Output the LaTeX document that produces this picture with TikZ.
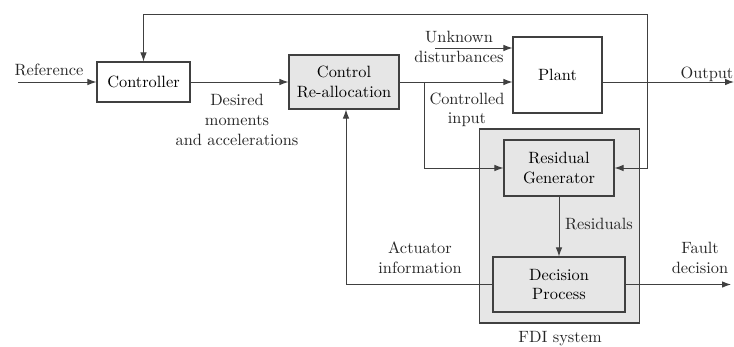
\documentclass[tikz,border=0pt]{standalone}
\usetikzlibrary{arrows.meta}
\def\pu{0.0215cm}
\definecolor{boxgray}{HTML}{E6E6E6}
\definecolor{ink}{HTML}{404040}
\tikzset{
  blk/.style={draw=ink, line width=0.65pt, inner sep=0pt, align=center, font=\normalsize},
  shaded/.style={blk, fill=boxgray},
  lbl/.style={inner sep=0pt, align=center, text=black!85},
  flow/.style={draw=ink, line width=0.6pt, -{Latex[length=5.5pt,width=4pt]}},
  wire/.style={draw=ink, line width=0.6pt}
}
\begin{document}
\begin{tikzpicture}[x=\pu, y=-\pu]
\useasboundingbox (0,0) rectangle (734,347);

% FDI enclosure
\node[shaded, minimum width=160*\pu, minimum height=194*\pu] (fdi) at (559.5,226) {};
\node[lbl] (fdilbl) at (560,339) {FDI system};

% blocks
\node[blk, minimum width=93*\pu, minimum height=40*\pu] (ctrl) at (143.5,82) {Controller};
\node[shaded, minimum width=110*\pu, minimum height=54*\pu] (cra) at (344,82) {Control\\Re-allocation};
\node[blk, minimum width=89*\pu, minimum height=76*\pu] (plant) at (557.5,75) {Plant};
\node[shaded, minimum width=110*\pu, minimum height=56*\pu] (rg) at (559,168) {Residual\\Generator};
\node[shaded, minimum width=132*\pu, minimum height=55*\pu] (dp) at (559,284.5) {Decision\\Process};

% free ends
\coordinate (refin) at (18,82);
\coordinate (distin) at (435,48);
\coordinate (out) at (734,82);
\coordinate (fault) at (731,284.5);
\coordinate (branch) at (424,82);
\coordinate (fbr) at (647,82);

% connectors
\draw[flow] (refin) -- (ctrl.west);
\draw[flow] (ctrl.east) -- (cra.west);
\draw[flow] (cra.east) -- (plant.west |- cra.east);
\draw[flow] (distin) -- (plant.west |- distin);
\draw[flow] (plant.east |- out) -- (out);
\draw[flow] (branch) |- (rg.west);
\draw[flow] (fbr) -- (647,14) -| (ctrl.north);
\draw[flow] (fbr) |- (rg.east);
\draw[flow] (rg.south) -- (dp.north);
\draw[flow] (dp.west) -| (cra.south -| 346,0);
\draw[flow] (dp.east) -- (fault);

% labels
\node[lbl] at (49,70) {Reference};
\node[lbl] at (237,120) {Desired\\moments\\and accelerations};
\node[lbl] at (459,47) {Unknown\\disturbances};
\node[lbl] at (467,110) {Controlled\\input};
\node[lbl] at (707,74) {Output};
\node[lbl] at (599,224) {Residuals};
\node[lbl] at (420,258) {Actuator\\information};
\node[lbl] at (700,258) {Fault\\decision};
\end{tikzpicture}
\end{document}
